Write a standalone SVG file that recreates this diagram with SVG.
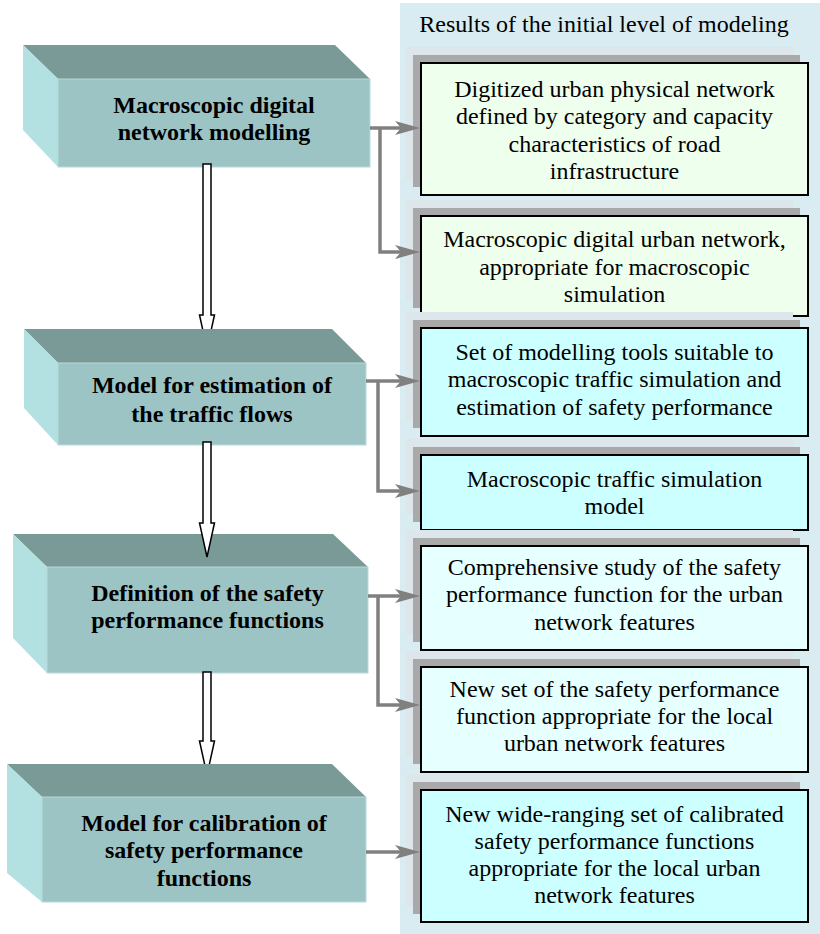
<svg xmlns="http://www.w3.org/2000/svg" width="820" height="934" viewBox="0 0 820 934">
<style>
.top{fill:#7a9a97}
.front{fill:#9dc4c4;stroke:#b9dada;stroke-width:1}
.side{fill:#b3e0e0}
.bt{font-family:"Liberation Serif","Times New Roman",serif;font-weight:bold;font-size:24px;fill:#000;text-anchor:middle}
.rt{font-family:"Liberation Serif","Times New Roman",serif;font-size:24px;fill:#000;text-anchor:middle}
.back{fill:#dde7eb}
.shadow{fill:#a9a9a9}
.res{stroke:#000;stroke-width:2}
.g{fill:#eeffee}
.c{fill:#ccffff}
.l{fill:#e6ffff}
.conn{stroke:#808080;stroke-width:3.5;fill:none}
.hollow{fill:#fff;stroke:#000;stroke-width:1.5}
</style>
<defs>
<marker id="ah" markerUnits="userSpaceOnUse" markerWidth="26" markerHeight="16" viewBox="0 -8 26 16" refX="6" refY="0" orient="auto">
<path d="M0,-7 L25,0 L0,7 L6,0 Z" fill="#808080"/>
</marker>
<clipPath id="clip1"><rect x="150" y="150" width="120" height="179"/></clipPath>
<clipPath id="clip3"><rect x="150" y="660" width="120" height="104"/></clipPath>
</defs>
<rect x="400" y="3" width="420" height="931" fill="#d8ecf2"/>
<text class="rt" x="604" y="32">Results of the initial level of modeling</text>

<g id="model1">
<polygon class="top" points="23,45 335,45 370,79 58,79"/>
<polygon class="side" points="23,45 58,79 58,167 23,130"/>
<rect class="front" x="58" y="79" width="312" height="88"/>
<text class="bt" x="214" y="113">Macroscopic digital</text>
<text class="bt" x="214" y="140">network modelling</text>
</g>
<g id="model2">
<polygon class="top" points="24,329 332,329 366,363 58,363"/>
<polygon class="side" points="24,329 58,363 58,445 24,408"/>
<rect class="front" x="58" y="363" width="308" height="82"/>
<text class="bt" x="212" y="393">Model for estimation of</text>
<text class="bt" x="212" y="422">the traffic flows</text>
</g>
<g id="model3">
<polygon class="top" points="13,534 333,534 368,567 47,567"/>
<polygon class="side" points="13,534 47,567 47,673 13,638"/>
<rect class="front" x="47" y="567" width="321" height="106"/>
<text class="bt" x="207.5" y="601">Definition of the safety</text>
<text class="bt" x="207.5" y="628">performance functions</text>
</g>
<g id="model4">
<polygon class="top" points="7,764 332,764 366,797 42,797"/>
<polygon class="side" points="7,764 42,797 42,902 7,873"/>
<rect class="front" x="42" y="797" width="324" height="105"/>
<text class="bt" x="204" y="831">Model for calibration of</text>
<text class="bt" x="204" y="858">safety performance</text>
<text class="bt" x="204" y="886">functions</text>
</g>

<g id="result1">
<rect class="back" x="406" y="47" width="387" height="132"/>
<rect class="shadow" x="413" y="55" width="387" height="132"/>
<rect class="res g" x="421" y="63" width="387" height="132"/>
<text class="rt" x="614.5" y="97">Digitized urban physical network</text>
<text class="rt" x="614.5" y="124">defined by category and capacity</text>
<text class="rt" x="614.5" y="152">characteristics of road</text>
<text class="rt" x="614.5" y="179">infrastructure</text>
</g>
<g id="result2">
<rect class="back" x="406" y="200" width="387" height="100"/>
<rect class="shadow" x="413" y="208" width="387" height="100"/>
<rect class="res g" x="421" y="216" width="387" height="100"/>
<text class="rt" x="614.5" y="247">Macroscopic digital urban network,</text>
<text class="rt" x="614.5" y="275">appropriate for macroscopic</text>
<text class="rt" x="614.5" y="302">simulation</text>
</g>
<g id="result3">
<rect class="back" x="406" y="312" width="387" height="108"/>
<rect class="shadow" x="413" y="320" width="387" height="108"/>
<rect class="res c" x="421" y="328" width="387" height="108"/>
<text class="rt" x="614.5" y="360">Set of modelling tools suitable to</text>
<text class="rt" x="614.5" y="387">macroscopic traffic simulation and</text>
<text class="rt" x="614.5" y="415">estimation of safety performance</text>
</g>
<g id="result4">
<rect class="back" x="406" y="439" width="387" height="75"/>
<rect class="shadow" x="413" y="447" width="387" height="75"/>
<rect class="res c" x="421" y="455" width="387" height="75"/>
<text class="rt" x="614.5" y="487">Macroscopic traffic simulation</text>
<text class="rt" x="614.5" y="514">model</text>
</g>
<g id="result5">
<rect class="back" x="406" y="530" width="387" height="104"/>
<rect class="shadow" x="413" y="538" width="387" height="104"/>
<rect class="res l" x="421" y="546" width="387" height="104"/>
<text class="rt" x="614.5" y="575">Comprehensive study of the safety</text>
<text class="rt" x="614.5" y="602">performance function for the urban</text>
<text class="rt" x="614.5" y="630">network features</text>
</g>
<g id="result6">
<rect class="back" x="406" y="651" width="387" height="105"/>
<rect class="shadow" x="413" y="659" width="387" height="105"/>
<rect class="res l" x="421" y="667" width="387" height="105"/>
<text class="rt" x="614.5" y="697">New set of the safety performance</text>
<text class="rt" x="614.5" y="724">function appropriate for the local</text>
<text class="rt" x="614.5" y="751">urban network features</text>
</g>
<g id="result7">
<rect class="back" x="406" y="774" width="387" height="132"/>
<rect class="shadow" x="413" y="782" width="387" height="132"/>
<rect class="res c" x="421" y="790" width="387" height="132"/>
<text class="rt" x="614.5" y="822">New wide-ranging set of calibrated</text>
<text class="rt" x="614.5" y="849">safety performance functions</text>
<text class="rt" x="614.5" y="876">appropriate for the local urban</text>
<text class="rt" x="614.5" y="903">network features</text>
</g>

<g id="connectors">
<path class="conn" d="M370,128 H401" marker-end="url(#ah)"/>
<path class="conn" d="M380,128 V252 H401" marker-end="url(#ah)"/>
<path class="conn" d="M366,381 H401" marker-end="url(#ah)"/>
<path class="conn" d="M378,381 V491 H401" marker-end="url(#ah)"/>
<path class="conn" d="M368,596 H401" marker-end="url(#ah)"/>
<path class="conn" d="M378,596 V705 H401" marker-end="url(#ah)"/>
<path class="conn" d="M366,852 H401" marker-end="url(#ah)"/>
<polygon class="hollow" clip-path="url(#clip1)" points="203,164 211,164 211,315 214.5,315 207,349 199.5,315 203,315"/>
<polygon class="hollow" points="203,442 211,442 211,523 214.5,523 207,557 199.5,523 203,523"/>
<polygon class="hollow" clip-path="url(#clip3)" points="203,672 211,672 211,741 214.5,741 207,775 199.5,741 203,741"/>
</g>
</svg>
